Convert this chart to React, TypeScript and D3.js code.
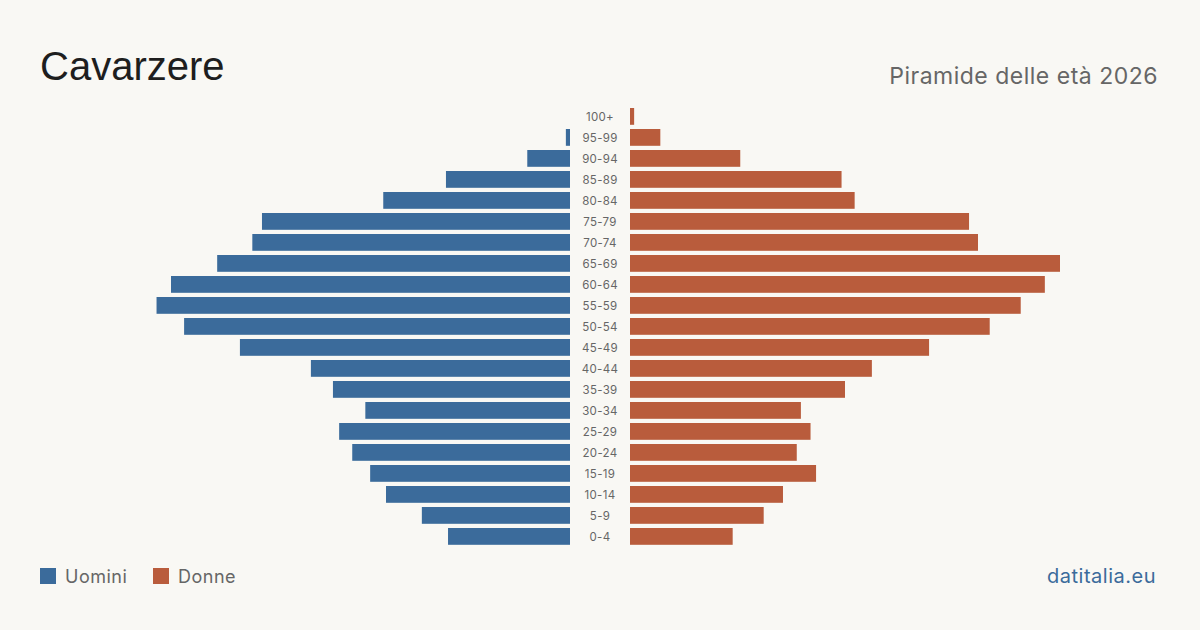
import * as d3 from 'd3';
import { useEffect, useRef } from 'react';

// Age bands, oldest first (top of the pyramid)
const ageGroups = [
  '100+', '95-99', '90-94', '85-89', '80-84', '75-79', '70-74', '65-69',
  '60-64', '55-59', '50-54', '45-49', '40-44', '35-39', '30-34', '25-29',
  '20-24', '15-19', '10-14', '5-9', '0-4',
];

const men = [
  0, 6, 62, 180, 271, 447, 461, 512, 579, 600, 560, 479, 376, 344, 297, 335,
  316, 290, 267, 215, 177,
];

const women = [
  6, 44, 160, 307, 326, 492, 505, 624, 602, 567, 522, 434, 351, 312, 248, 262,
  242, 270, 222, 194, 149,
];

const MEN_COLOR = '#3b6b9b';
const WOMEN_COLOR = '#b95c3c';
const BG = '#f9f8f4';
const TITLE_FONT = "'Liberation Sans', Arial, sans-serif";
const FONT = "Inter, 'Liberation Sans', sans-serif";

const App = () => {
  const svgRef = useRef<SVGSVGElement>(null);

  useEffect(() => {
    document.body.style.margin = '0';
    if (!svgRef.current) return;

    const width = 1200;
    const height = 630;
    const svg = d3.select(svgRef.current);
    svg.selectAll('*').remove();
    svg.attr('width', width).attr('height', height);

    svg.append('rect').attr('width', width).attr('height', height).attr('fill', BG);

    const centerX = 600;
    const gap = 30;
    const maxVal = d3.max([...men, ...women]) as number;

    const y = d3
      .scaleBand<string>()
      .domain(ageGroups)
      .range([103.8, 549])
      .padding(0.2);

    const x = d3.scaleLinear().domain([0, maxVal]).range([0, 430]);

    const rows = ageGroups.map((age, i) => ({ age, m: men[i], f: women[i] }));

    // Men to the left of the centre column
    svg
      .append('g')
      .selectAll('rect')
      .data(rows)
      .join('rect')
      .attr('x', (d) => centerX - gap - x(d.m))
      .attr('y', (d) => y(d.age) as number)
      .attr('width', (d) => x(d.m))
      .attr('height', y.bandwidth())
      .attr('fill', MEN_COLOR);

    // Women to the right
    svg
      .append('g')
      .selectAll('rect')
      .data(rows)
      .join('rect')
      .attr('x', centerX + gap)
      .attr('y', (d) => y(d.age) as number)
      .attr('width', (d) => x(d.f))
      .attr('height', y.bandwidth())
      .attr('fill', WOMEN_COLOR);

    // Age labels
    svg
      .append('g')
      .selectAll('text')
      .data(rows)
      .join('text')
      .attr('x', centerX)
      .attr('y', (d) => (y(d.age) as number) + y.bandwidth() / 2)
      .attr('dy', '0.4em')
      .attr('text-anchor', 'middle')
      .attr('font-family', FONT)
      .attr('font-size', 11.5)
      .attr('letter-spacing', 0.3)
      .attr('fill', '#666')
      .text((d) => d.age);

    // Title and subtitle
    svg
      .append('text')
      .attr('x', 40)
      .attr('y', 80)
      .attr('font-family', TITLE_FONT)
      .attr('font-size', 40)
      .attr('fill', '#1e1e1e')
      .text('Cavarzere');

    svg
      .append('text')
      .attr('x', 1158)
      .attr('y', 84)
      .attr('text-anchor', 'end')
      .attr('font-family', FONT)
      .attr('font-size', 23)
      .attr('letter-spacing', 0.5)
      .attr('fill', '#666')
      .text('Piramide delle età 2026');

    // Legend
    const legend = [
      { label: 'Uomini', color: MEN_COLOR, x: 40 },
      { label: 'Donne', color: WOMEN_COLOR, x: 153 },
    ];
    const lg = svg.append('g').selectAll('g').data(legend).join('g');
    lg.append('rect')
      .attr('x', (d) => d.x)
      .attr('y', 568)
      .attr('width', 16)
      .attr('height', 16)
      .attr('fill', (d) => d.color);
    lg.append('text')
      .attr('x', (d) => d.x + 25)
      .attr('y', 583)
      .attr('font-family', FONT)
      .attr('font-size', 18)
      .attr('letter-spacing', 0.5)
      .attr('fill', '#666')
      .text((d) => d.label);

    svg
      .append('text')
      .attr('x', 1156)
      .attr('y', 583)
      .attr('text-anchor', 'end')
      .attr('font-family', FONT)
      .attr('font-size', 20)
      .attr('letter-spacing', 0.5)
      .attr('fill', MEN_COLOR)
      .text('datitalia.eu');
  }, []);

  return <svg ref={svgRef} style={{ display: 'block' }} />;
};

export default App;
